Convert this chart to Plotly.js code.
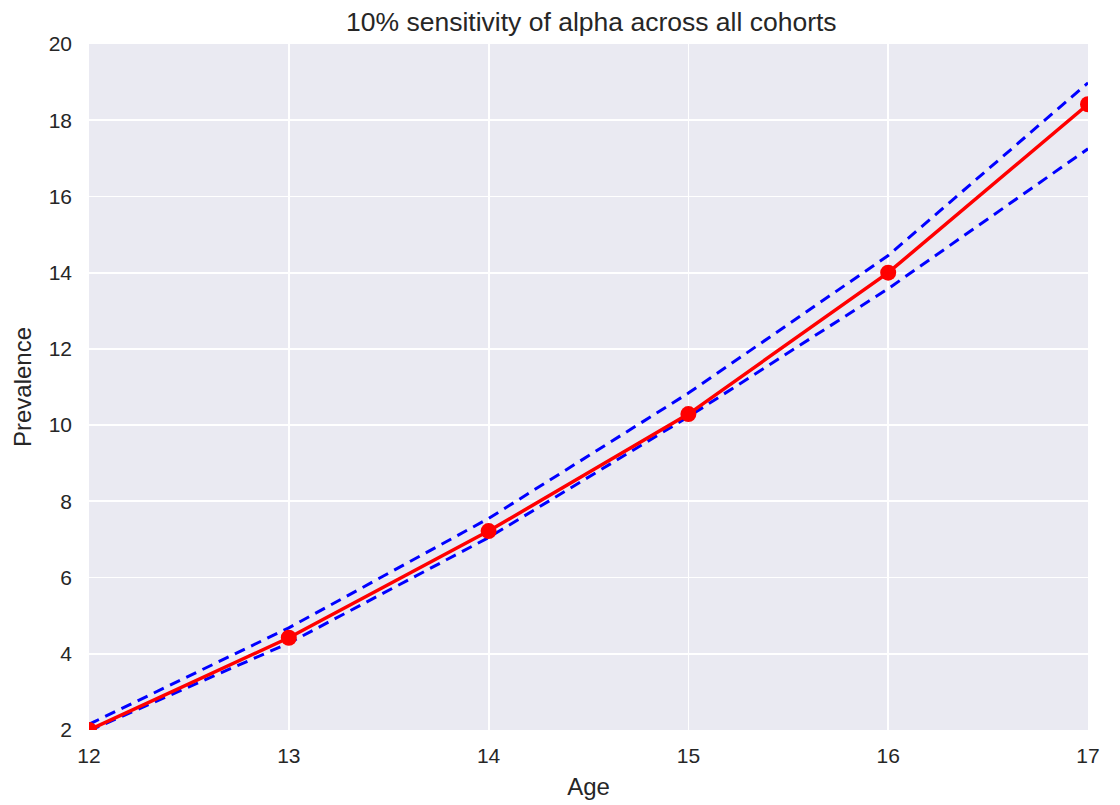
<!DOCTYPE html>
<html>
<head>
<meta charset="utf-8">
<script src="https://cdn.plot.ly/plotly-3.0.1.min.js"></script>
<style>html,body{margin:0;padding:0;background:#fff;}#chart{width:1120px;height:805px;}</style>
</head>
<body>
<div id="chart"></div>
<script>
const ages = [12, 13, 14, 15, 16, 17];
const prevalence = [2.0, 4.42, 7.22, 10.29, 14.0, 18.42];
const upperBound = [2.15, 4.68, 7.55, 10.84, 14.45, 18.98];
const lowerBound = [1.98, 4.28, 7.05, 10.22, 13.58, 17.25];
const xTicks = [12, 13, 14, 15, 16, 17];
const yTicks = [2, 4, 6, 8, 10, 12, 14, 16, 18, 20];

const font = 'Liberation Sans, Arial, sans-serif';
const traces = [
  {x: ages, y: upperBound, mode: 'lines', line: {color: '#0000ff', width: 3, dash: '11px,7px'}, hoverinfo: 'skip'},
  {x: ages, y: lowerBound, mode: 'lines', line: {color: '#0000ff', width: 3, dash: '11px,7px'}, hoverinfo: 'skip'},
  {x: ages, y: prevalence, mode: 'lines+markers', line: {color: '#ff0000', width: 3.5}, marker: {color: '#ff0000', size: 16}}
];
const layout = {
  width: 1120, height: 805,
  margin: {l: 89, r: 32, t: 44, b: 75},
  paper_bgcolor: '#ffffff',
  plot_bgcolor: '#eaeaf2',
  showlegend: false,
  font: {family: font, color: '#262626', size: 21},
  title: {text: '10% sensitivity of alpha across all cohorts', x: 0.528, xanchor: 'center', y: 0.9725, yanchor: 'middle', font: {size: 26.5, family: font, color: '#262626'}},
  xaxis: {
    range: [12, 17], tickvals: xTicks, ticktext: xTicks.map(String),
    showgrid: true, gridcolor: '#ffffff', gridwidth: 1.8, zeroline: false, showline: false,
    ticks: '', ticklen: 0, tickfont: {size: 21}, ticklabelstandoff: 11, automargin: false,
    title: {text: 'Age', font: {size: 24}, standoff: 12}
  },
  yaxis: {
    range: [2, 20], tickvals: yTicks, ticktext: yTicks.map(String),
    showgrid: true, gridcolor: '#ffffff', gridwidth: 1.8, zeroline: false, showline: false,
    ticks: '', ticklen: 0, tickfont: {size: 21}, ticklabelstandoff: 16, automargin: false,
    title: {text: 'Prevalence', font: {size: 24}, standoff: 10}
  }
};
Plotly.newPlot('chart', traces, layout, {displayModeBar: false, staticPlot: true});
</script>
</body>
</html>
